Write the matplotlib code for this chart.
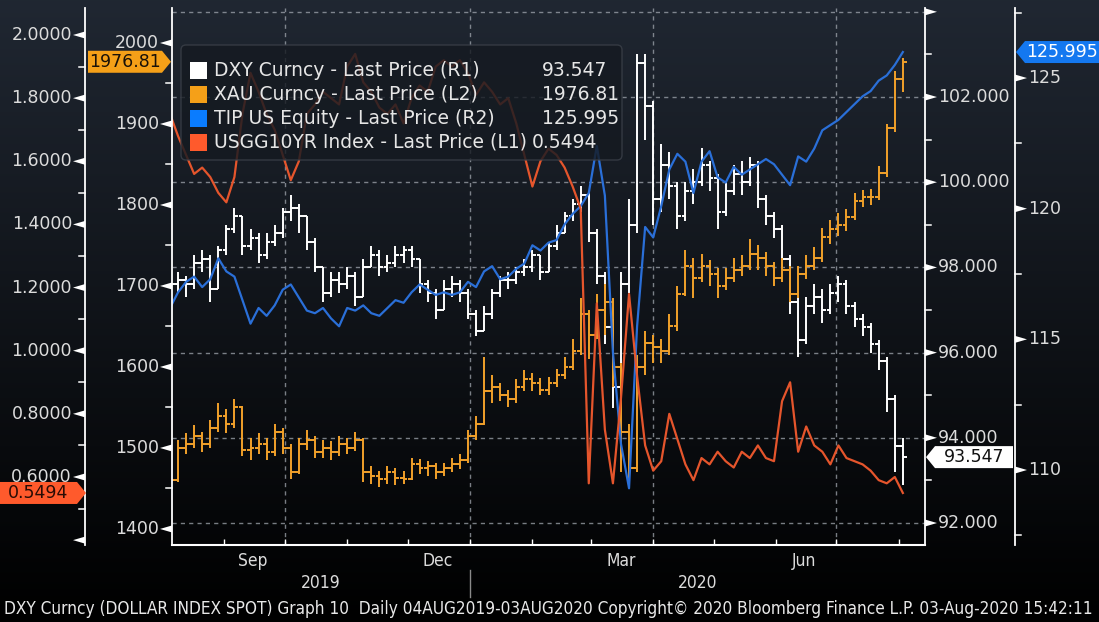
import numpy as np
import pandas as pd
import matplotlib
matplotlib.use("Agg")
import matplotlib.pyplot as plt
import matplotlib.dates as mdates
from matplotlib.patches import Polygon, FancyBboxPatch, Rectangle
from matplotlib.lines import Line2D
from matplotlib.transforms import IdentityTransform, blended_transform_factory

W, H, DPI = 1099, 622, 100
plt.rcParams['font.family'] = ['DejaVu Sans']

# ---------------- data (4-day sampling) ----------------
dates = pd.date_range("2019-08-05", periods=92, freq="4D")

dxy = [97.6, 97.7, 97.6, 98.1, 98.2, 97.5, 98.4, 98.9, 99.2, 98.5,
       98.7, 98.3, 98.6, 98.8, 99.3, 99.4, 99.2, 98.6, 98.0, 97.4,
       97.7, 97.6, 97.8, 97.3, 98.0, 98.3, 98.0, 98.1, 98.3, 98.4,
       98.2, 97.6, 97.4, 97.0, 97.5, 97.6, 97.4, 96.9, 96.5, 96.9,
       97.4, 97.7, 97.7, 97.9, 98.0, 98.3, 97.9, 98.5, 98.8, 99.2,
       99.5, 99.7, 98.8, 97.8, 96.6, 95.2, 97.6, 99.0, 102.8, 101.8,
       99.6, 100.4, 99.9, 99.2, 99.8, 100.0, 100.4, 100.1, 99.3, 99.8,
       100.2, 100.0, 100.4, 99.6, 99.2, 98.9, 98.2, 97.2, 96.3, 97.1,
       97.3, 97.0, 97.4, 97.6, 97.1, 96.8, 96.6, 96.2, 95.8, 94.9,
       93.8, 93.547]
dxy_hi = [97.8, 97.9, 97.8, 98.3, 98.4, 98.3, 98.5, 99.0, 99.4, 99.2,
          98.9, 98.8, 98.8, 99.0, 99.4, 99.7, 99.5, 99.2, 98.7, 98.0,
          97.9, 97.9, 98.0, 97.9, 98.2, 98.5, 98.4, 98.3, 98.5, 98.5,
          98.5, 98.2, 97.7, 97.5, 97.7, 97.8, 97.7, 97.5, 97.0, 97.1,
          97.5, 97.8, 97.9, 98.0, 98.2, 98.4, 98.3, 98.6, 99.0, 99.3,
          99.6, 99.9, 99.8, 98.9, 97.9, 96.8, 97.9, 99.6, 103.0, 103.0,
          101.9, 100.9, 100.7, 100.0, 100.0, 100.3, 100.8, 100.5, 100.2, 100.0,
          100.4, 100.5, 100.6, 100.5, 99.7, 99.3, 99.0, 98.3, 97.3, 97.3,
          97.6, 97.5, 97.6, 97.8, 97.7, 97.2, 96.9, 96.7, 96.3, 95.9,
          95.0, 94.0]
dxy_lo = [97.3, 97.4, 97.3, 97.5, 97.9, 97.2, 97.5, 98.3, 98.8, 98.3,
          98.4, 98.1, 98.2, 98.5, 98.7, 99.1, 98.8, 98.4, 97.9, 97.2,
          97.3, 97.4, 97.5, 97.1, 97.3, 98.0, 97.8, 97.9, 98.0, 98.1,
          98.0, 97.4, 97.2, 96.8, 97.0, 97.3, 97.2, 96.8, 96.4, 96.5,
          96.8, 97.3, 97.5, 97.6, 97.8, 97.9, 97.7, 97.9, 98.4, 98.8,
          99.1, 99.3, 98.6, 97.6, 96.2, 94.7, 95.0, 97.4, 98.8, 101.0,
          99.0, 99.3, 99.6, 98.9, 99.1, 99.5, 99.9, 99.8, 98.9, 99.2,
          99.7, 99.7, 99.9, 99.4, 99.0, 98.7, 98.0, 96.9, 95.9, 96.2,
          96.9, 96.7, 96.9, 97.2, 96.9, 96.6, 96.4, 96.0, 95.6, 94.6,
          93.2, 92.9]

xau = [1460, 1500, 1505, 1515, 1505, 1525, 1540, 1530, 1550, 1498,
       1500, 1505, 1495, 1520, 1500, 1470, 1505, 1510, 1495, 1500,
       1495, 1505, 1500, 1510, 1470, 1465, 1462, 1470, 1463, 1462,
       1480, 1475, 1478, 1470, 1475, 1480, 1485, 1515, 1530, 1570,
       1575, 1565, 1560, 1575, 1585, 1580, 1572, 1580, 1590, 1600,
       1620, 1665, 1640, 1670, 1680, 1600, 1520, 1475, 1600, 1630,
       1625, 1620, 1650, 1690, 1725, 1710, 1725, 1715, 1700, 1710,
       1720, 1725, 1740, 1735, 1725, 1710, 1720, 1690, 1715, 1725,
       1735, 1760, 1770, 1775, 1785, 1805, 1810, 1810, 1840, 1895,
       1955, 1976.81]
xau_hi = [1472, 1510, 1518, 1528, 1520, 1535, 1556, 1548, 1560, 1552,
          1512, 1518, 1512, 1530, 1525, 1505, 1512, 1522, 1515, 1510,
          1508, 1515, 1512, 1520, 1512, 1478, 1472, 1478, 1475, 1472,
          1488, 1486, 1484, 1482, 1482, 1488, 1492, 1522, 1540, 1612,
          1590, 1580, 1572, 1585, 1596, 1592, 1586, 1588, 1598, 1612,
          1635, 1685, 1670, 1690, 1703, 1685, 1605, 1530, 1615, 1645,
          1640, 1635, 1665, 1700, 1745, 1735, 1740, 1732, 1722, 1722,
          1735, 1738, 1758, 1750, 1742, 1730, 1735, 1725, 1725, 1738,
          1748, 1772, 1782, 1790, 1795, 1815, 1818, 1820, 1848, 1900,
          1965, 1982]
xau_lo = [1440, 1458, 1492, 1500, 1495, 1500, 1520, 1518, 1525, 1490,
          1485, 1492, 1485, 1490, 1492, 1462, 1468, 1498, 1488, 1488,
          1485, 1490, 1492, 1496, 1458, 1455, 1452, 1456, 1454, 1455,
          1460, 1468, 1466, 1462, 1465, 1470, 1474, 1482, 1510, 1528,
          1555, 1558, 1550, 1556, 1570, 1570, 1565, 1565, 1575, 1585,
          1596, 1615, 1610, 1635, 1640, 1575, 1470, 1450, 1470, 1590,
          1605, 1605, 1615, 1645, 1688, 1685, 1705, 1700, 1685, 1695,
          1705, 1712, 1720, 1720, 1712, 1700, 1705, 1680, 1685, 1708,
          1720, 1730, 1752, 1762, 1768, 1782, 1798, 1800, 1806, 1835,
          1890, 1940]

tip = [116.2, 116.8, 117.2, 117.4, 117.0, 117.3, 118.1, 117.6, 117.4, 116.5,
       115.6, 116.2, 115.9, 116.3, 116.9, 117.1, 116.6, 116.1, 116.0, 116.2,
       115.8, 115.5, 116.2, 116.1, 116.3, 116.0, 115.9, 116.2, 116.5, 116.4,
       116.8, 117.1, 116.9, 116.7, 116.8, 116.7, 116.8, 117.2, 117.0, 117.6,
       117.8, 117.3, 117.4, 117.7, 117.9, 118.6, 118.4, 118.7, 118.8, 119.4,
       119.8, 120.1, 120.6, 122.4, 120.5, 114.5, 111.0, 109.3, 115.5, 119.3,
       118.9, 120.1, 121.5, 122.1, 121.8, 120.6, 121.8, 122.2, 121.2, 121.0,
       121.6, 121.3, 121.5, 121.7, 121.9, 121.7, 121.3, 120.9, 122.0, 121.8,
       122.3, 123.0, 123.2, 123.4, 123.7, 124.0, 124.3, 124.5, 124.9, 125.1,
       125.5, 125.995]

usgg = [1.75, 1.68, 1.62, 1.56, 1.58, 1.55, 1.50, 1.47, 1.55, 1.75,
        1.88, 1.82, 1.75, 1.70, 1.62, 1.54, 1.60, 1.75, 1.78, 1.82,
        1.80, 1.78, 1.90, 1.94, 1.85, 1.82, 1.77, 1.75, 1.78, 1.72,
        1.80, 1.84, 1.82, 1.90, 1.92, 1.90, 1.92, 1.88, 1.81, 1.85,
        1.82, 1.78, 1.80, 1.72, 1.62, 1.52, 1.60, 1.64, 1.62, 1.58,
        1.52, 1.45, 0.58, 1.15, 0.75, 0.58, 0.85, 1.18, 0.92, 0.70,
        0.62, 0.65, 0.80, 0.72, 0.64, 0.59, 0.66, 0.64, 0.68, 0.65,
        0.63, 0.68, 0.66, 0.70, 0.66, 0.65, 0.84, 0.90, 0.68, 0.76,
        0.70, 0.68, 0.64, 0.70, 0.66, 0.65, 0.64, 0.62, 0.59, 0.58,
        0.60, 0.5494]

series_names = ["DXY Curncy - Last Price (R1)", "XAU Curncy - Last Price (L2)",
                "TIP US Equity - Last Price (R2)", "USGG10YR Index - Last Price (L1)"]
last_labels = ["93.547", "1976.81", "125.995", "0.5494"]

l1_ticks = [0.4, 0.6, 0.8, 1.0, 1.2, 1.4, 1.6, 1.8, 2.0]
l1_labels = ["", "0.6000", "0.8000", "1.0000", "1.2000", "1.4000", "1.6000", "1.8000", "2.0000"]
l1_minor = [0.5, 0.7, 0.9, 1.1, 1.3, 1.5, 1.7, 1.9]
l2_ticks = [1400, 1500, 1600, 1700, 1800, 1900, 2000]
l2_labels = ["1400", "1500", "1600", "1700", "1800", "1900", "2000"]
l2_minor = [1450, 1550, 1650, 1750, 1850, 1950]
r1_ticks = [92, 94, 96, 98, 100, 102, 104]
r1_labels = ["92.000", "94.000", "96.000", "98.000", "100.000", "102.000", ""]
r1_minor = [93, 95, 97, 99, 101, 103]
r2_ticks = [110, 115, 120, 125]
r2_labels = ["110", "115", "120", "125"]
r2_minor = [107.5, 112.5, 117.5, 122.5, 127.5]

month_labels = ["Sep", "Dec", "Mar", "Jun"]
month_label_dates = ["2019-09-15", "2019-12-16", "2020-03-16", "2020-06-15"]
years = ["2019", "2020"]
caption = ("DXY Curncy (DOLLAR INDEX SPOT) Graph 10  Daily 04AUG2019-03AUG2020 "
           "Copyright\u00a9 2020 Bloomberg Finance L.P. 03-Aug-2020 15:42:11")

# ---------------- colours ----------------
C_DXY, C_XAU, C_TIP, C_10Y = "#ffffff", "#f2a12a", "#2a6fd8", "#e5552c"
SW = ["#ffffff", "#f5a018", "#0a7cff", "#ff5a2c"]
TXT = "#dcdcdc"
ID = IdentityTransform()


def py(ytop):
    return H - ytop


fig = plt.figure(figsize=(W / DPI, H / DPI), dpi=DPI)

# background gradient
bg = fig.add_axes([0, 0, 1, 1], zorder=-5)
g = np.linspace(0, 1, 300)[:, None, None]
top = np.array([0.125, 0.153, 0.196])
bot = np.array([0.0, 0.0, 0.0])
img = top * (1 - g) + bot * g
img = np.repeat(img, 2, axis=1)
bg.imshow(img, aspect="auto", extent=[0, 1, 0, 1])
bg.set_axis_off()

rect = [172 / W, (H - 545) / H, 753 / W, 537 / H]
ax = fig.add_axes(rect)          # R1 : DXY, grid
ax.patch.set_visible(False)
ax_l2 = ax.twinx()               # XAU
ax_r2 = ax.twinx()               # TIP
ax_l1 = ax.twinx()               # USGG10YR
axes = [ax, ax_l2, ax_r2, ax_l1]
for a in axes:
    for s in a.spines.values():
        s.set_visible(False)
    a.set_yticks([])

x = mdates.date2num(dates.to_pydatetime())
x0 = mdates.date2num(pd.Timestamp("2019-08-06").to_pydatetime())
x1 = mdates.date2num(pd.Timestamp("2020-08-14").to_pydatetime())
ax.set_xlim(x0, x1)
ax.set_ylim(91.484, 104.09)
ax_l2.set_ylim(1380.2, 2043.2)
ax_r2.set_ylim(107.13, 127.68)
ax_l1.set_ylim(0.3846, 2.0855)

months = pd.date_range("2019-09-01", "2020-08-01", freq="MS")
ax.set_xticks(mdates.date2num(months.to_pydatetime()))
ax.tick_params(axis="x", direction="in", length=4, width=1, colors="white", labelbottom=False)

# grid
for v in r1_ticks:
    ax.axhline(v, color="#a0a6ae", lw=1, dashes=(3, 3), alpha=0.75, zorder=1)
for d in ["2019-10-01", "2020-01-01", "2020-04-01", "2020-07-01"]:
    ax.axvline(mdates.date2num(pd.Timestamp(d).to_pydatetime()), color="#a0a6ae",
               lw=1, dashes=(3, 3), alpha=0.75, zorder=1)


def bars(a, closes, highs, lows, color):
    closes = np.asarray(closes, dtype=float)
    opens = np.r_[closes[0], closes[:-1]]
    a.vlines(x, lows, highs, color=color, lw=1.4, zorder=3)
    a.hlines(opens, x - 1.9, x, color=color, lw=1.4, zorder=3)
    a.hlines(closes, x, x + 1.9, color=color, lw=1.4, zorder=3)


bars(ax, dxy, dxy_hi, dxy_lo, C_DXY)
bars(ax_l2, xau, xau_hi, xau_lo, C_XAU)
ax_r2.plot(x, tip, color=C_TIP, lw=1.6, zorder=3)
ax_l1.plot(x, usgg, color=C_10Y, lw=1.6, zorder=3)

# axis lines
for xa in [85, 172, 925, 1015]:
    fig.add_artist(Line2D([xa, xa], [py(8), py(545)], transform=ID, color="white", lw=1.3, zorder=4))
fig.add_artist(Line2D([172, 925], [py(545), py(545)], transform=ID, color="white", lw=1.5, zorder=4))


def yd_of(a, v):
    return a.transData.transform((x0, v))[1]


def yticks(a, vals, labels, xa, side, minors):
    for v, lab in zip(vals, labels):
        yd = yd_of(a, v)
        if side == "left":
            tri = [(xa, yd + 3.5), (xa, yd - 3.5), (xa - 12, yd)]
            tx, ha = xa - 13, "right"
        else:
            tri = [(xa, yd + 3.5), (xa, yd - 3.5), (xa + 12, yd)]
            tx, ha = xa + 13, "left"
        fig.add_artist(Polygon(tri, closed=True, transform=ID, fc="white", ec="none", zorder=4))
        if lab:
            fig.text(tx, yd, lab, transform=ID, ha=ha, va="center", color=TXT,
                     fontsize=12.5, zorder=4)
    for v in minors:
        yd = yd_of(a, v)
        x2 = xa - 6 if side == "left" else xa + 6
        fig.add_artist(Line2D([xa, x2], [yd, yd], transform=ID, color="white", lw=1.1, zorder=4))


yticks(ax_l1, l1_ticks, l1_labels, 85, "left", l1_minor)
yticks(ax_l2, l2_ticks, l2_labels, 172, "left", l2_minor)
yticks(ax, r1_ticks, r1_labels, 925, "right", r1_minor)
yticks(ax_r2, r2_ticks, r2_labels, 1015, "right", r2_minor)


def tag(a, val, text, tip_x, far_x, side, fc, tc):
    yd = yd_of(a, val)
    h = 11
    xb = tip_x - 9 if side == "left" else tip_x + 9
    pts = [(far_x, yd - h), (xb, yd - h), (tip_x, yd), (xb, yd + h), (far_x, yd + h)]
    fig.add_artist(Polygon(pts, closed=True, transform=ID, fc=fc, ec="none", zorder=10))
    fig.text((far_x + xb) / 2, yd, text, transform=ID, ha="center", va="center",
             color=tc, fontsize=12.5, zorder=11)


tag(ax_l2, xau[-1], last_labels[1], 171, 88, "left", SW[1], "#1a1208")
tag(ax_l1, usgg[-1], last_labels[3], 86, 0, "left", SW[3], "#2a0c05")
tag(ax, dxy[-1], last_labels[0], 926, 1013, "right", "#ffffff", "#111111")
tag(ax_r2, tip[-1], last_labels[2], 1016, 1099, "right", "#1478f0", "#ffffff")

# legend
fig.add_artist(FancyBboxPatch((181, py(160)), 441, 115, boxstyle="round,pad=0,rounding_size=5",
                              transform=ID, fc="#151a21", ec="#3b4049", lw=1, alpha=0.82, zorder=6))
rows = [70, 94, 118, 142]
val_x = [542, 542, 542, 532]
for i, (name, val) in enumerate(zip(series_names, last_labels)):
    yy = py(rows[i])
    fig.add_artist(Rectangle((190, yy - 8.5), 17, 17, transform=ID, fc=SW[i], ec="none", zorder=7))
    fig.text(214, yy, name, transform=ID, va="center", ha="left", color="#e6e6e6",
             fontsize=13.5, zorder=7)
    fig.text(val_x[i], yy, val, transform=ID, va="center", ha="left", color="#e6e6e6",
             fontsize=13.5, zorder=7)

# x labels
bt = blended_transform_factory(ax.transData, ID)
for lab, d in zip(month_labels, month_label_dates):
    fig.text(mdates.date2num(pd.Timestamp(d).to_pydatetime()), py(561), lab, transform=bt,
             ha="center", va="center", color=TXT, fontsize=12.5, fontstretch="condensed")
jan1 = mdates.date2num(pd.Timestamp("2020-01-01").to_pydatetime())
fig.text((x0 + jan1) / 2, py(583), years[0], transform=bt, ha="center", va="center",
         color=TXT, fontsize=12.5, fontstretch="condensed")
fig.text((jan1 + x1) / 2, py(583), years[1], transform=bt, ha="center", va="center",
         color=TXT, fontsize=12.5, fontstretch="condensed")
fig.add_artist(Line2D([jan1, jan1], [py(570), py(597)], transform=bt, color="#8a8a8a", lw=1))

cap = fig.text(4, py(609), caption, transform=ID, ha="left", va="center", color="#e8e8e8",
               fontsize=12, fontstretch="condensed")
fig.canvas.draw()
wcap = cap.get_window_extent().width
cap.set_fontsize(12 * 1090 / wcap)

fig.savefig("out.png", dpi=DPI)
